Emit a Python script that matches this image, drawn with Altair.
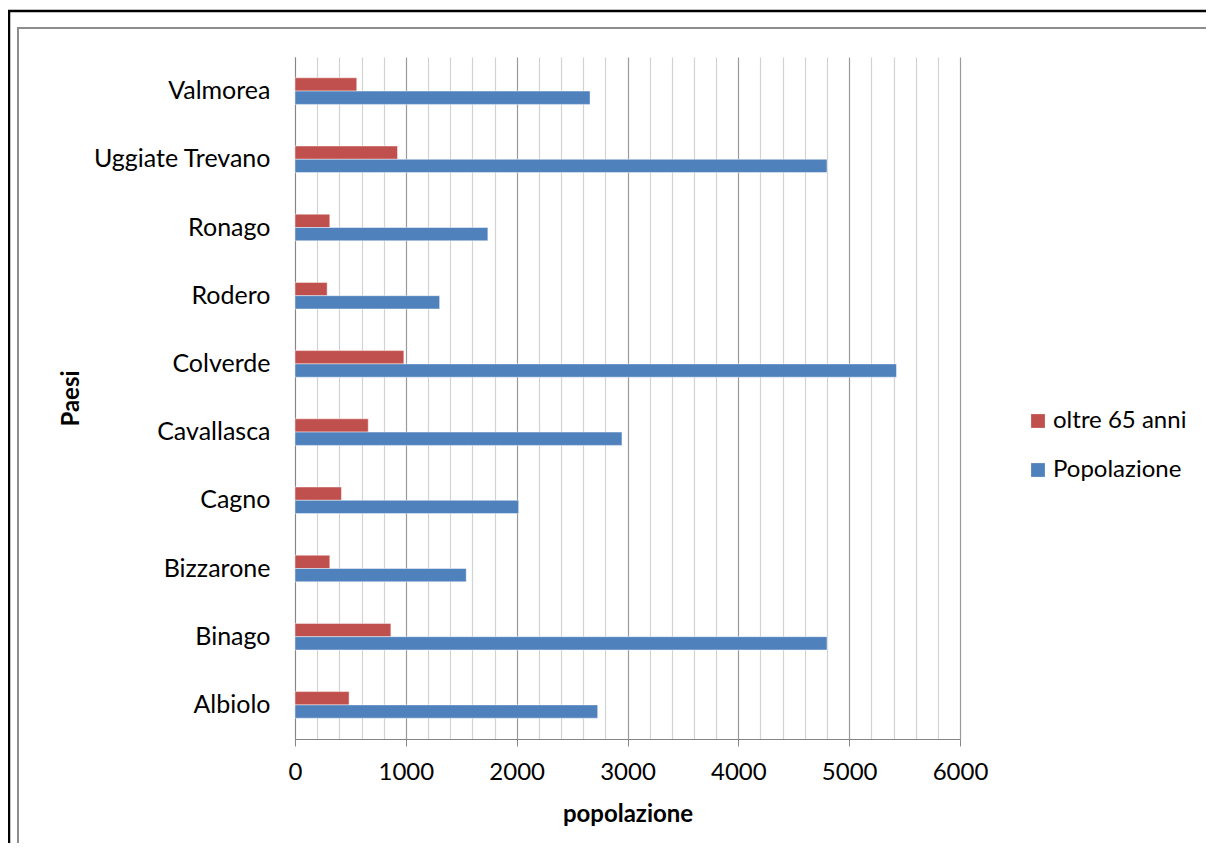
import altair as alt
import pandas as pd

# ---- data ----
paesi = ["Albiolo", "Binago", "Bizzarone", "Cagno", "Cavallasca",
         "Colverde", "Rodero", "Ronago", "Uggiate Trevano", "Valmorea"]
oltre_65 = [488, 865, 314, 419, 661, 982, 290, 314, 925, 557]
popolazione = [2731, 4800, 1545, 2018, 2950, 5427, 1305, 1740, 4800, 2662]
serie = ["oltre 65 anni", "Popolazione"]
colori = ["#C0504D", "#4F81BD"]
x_ticks = [0, 200, 400, 600, 800, 1000, 1200, 1400, 1600, 1800, 2000,
           2200, 2400, 2600, 2800, 3000, 3200, 3400, 3600, 3800, 4000,
           4200, 4400, 4600, 4800, 5000, 5200, 5400, 5600, 5800, 6000]

rows = []
for p, o, t in zip(paesi, oltre_65, popolazione):
    rows.append({"Paese": p, "Serie": serie[0], "Valore": o})
    rows.append({"Paese": p, "Serie": serie[1], "Valore": t})
df = pd.DataFrame(rows)

FONT = "Lato"
W, H = 665, 682
major = "datum.value % 1000 === 0"

bars = alt.Chart(df).mark_bar(stroke="white", strokeOpacity=0.45, strokeWidth=1).encode(
    x=alt.X("Valore:Q",
            scale=alt.Scale(domain=[0, 6000], nice=False),
            axis=alt.Axis(values=x_ticks, title="popolazione", format="d",
                          labelExpr=major + " ? datum.label : ''",
                          labelOverlap=False, labelFlush=False,
                          gridColor={"condition": {"test": major, "value": "#9a9a9a"}, "value": "#d2d2d2"},
                          tickOpacity={"condition": {"test": major, "value": 1}, "value": 0},
                          grid=True, gridWidth=1.2,
                          domainColor="#868686", tickColor="#868686", tickSize=7,
                          labelFont=FONT, labelFontSize=24, labelColor="#000000", labelPadding=14,
                          titleFont=FONT, titleFontSize=24, titleFontWeight="bold",
                          titleColor="#000000", titlePadding=18)),
    y=alt.Y("Paese:N", sort=list(reversed(paesi)),
            scale=alt.Scale(paddingInner=0.61, paddingOuter=0.305),
            axis=alt.Axis(title="Paesi", ticks=False, grid=False,
                          domainColor="#868686",
                          labelFont=FONT, labelFontSize=25, labelColor="#000000", labelPadding=25,
                          titleFont=FONT, titleFontSize=24, titleFontWeight="bold",
                          titleColor="#000000", titlePadding=12)),
    yOffset=alt.YOffset("Serie:N", sort=serie, scale=alt.Scale(paddingInner=0, paddingOuter=0)),
    color=alt.Color("Serie:N", scale=alt.Scale(domain=serie, range=colori),
                    legend=alt.Legend(title=None, orient="none", legendX=731, legendY=352,
                                      symbolType="square", symbolSize=190, symbolStrokeWidth=0,
                                      labelFont=FONT, labelFontSize=24, labelColor="#000000",
                                      labelOffset=3, rowPadding=25, padding=0)),
)

frame_df = pd.DataFrame({"k": [0]})
outer = alt.Chart(frame_df).mark_rect(fillOpacity=0, stroke="#000000", strokeWidth=2.5).encode(
    x=alt.value(-286), y=alt.value(-46), x2=alt.value(2000), y2=alt.value(2000))
inner = alt.Chart(frame_df).mark_rect(fillOpacity=0, stroke="#8c8c8c", strokeWidth=2).encode(
    x=alt.value(-277), y=alt.value(-29), x2=alt.value(2000), y2=alt.value(2000))

chart = alt.layer(outer, inner, bars).properties(
    width=W, height=H,
    padding={"left": 287, "top": 49, "right": 246, "bottom": 104},
    autosize=alt.AutoSizeParams(type="none"),
).configure_view(strokeWidth=0)

chart.save("out.html", embed_options={"renderer": "svg", "actions": False})
